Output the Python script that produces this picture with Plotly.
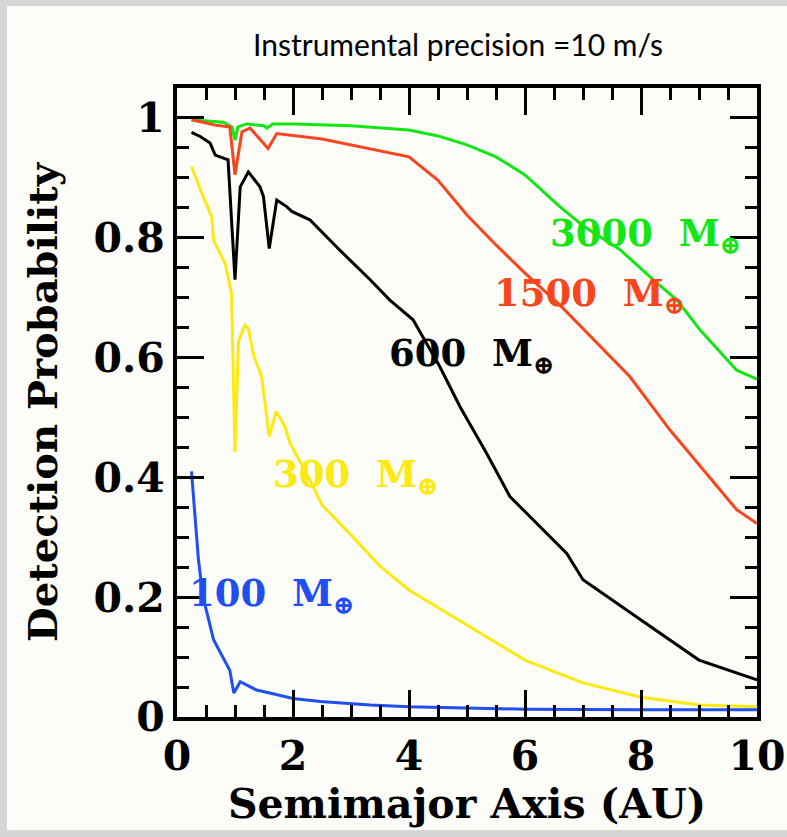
import plotly.graph_objects as go

# ---- data ----
x_3000 = [0.25, 0.5, 0.8, 0.95, 1.0, 1.05, 1.2, 1.5, 1.55, 1.65, 2.0, 3.0, 4.0, 4.5, 5.0, 5.5, 6.0, 6.6, 7.0, 7.64, 8.21, 8.62, 9.02, 9.65, 10.0]
y_3000 = [0.997, 0.995, 0.993, 0.985, 0.963, 0.985, 0.99, 0.987, 0.983, 0.99, 0.99, 0.987, 0.98, 0.97, 0.955, 0.935, 0.905, 0.852, 0.82, 0.78, 0.73, 0.696, 0.646, 0.579, 0.564]

x_1500 = [0.25, 0.66, 0.91, 1.0, 1.12, 1.26, 1.57, 1.72, 2.5, 3.33, 4.0, 4.5, 5.0, 5.5, 6.0, 6.6, 7.81, 8.5, 9.65, 10.0]
y_1500 = [0.997, 0.988, 0.985, 0.905, 0.977, 0.983, 0.949, 0.974, 0.965, 0.949, 0.935, 0.896, 0.838, 0.788, 0.741, 0.688, 0.568, 0.479, 0.346, 0.323]

x_600 = [0.25, 0.4, 0.57, 0.66, 0.88, 1.0, 1.09, 1.23, 1.43, 1.49, 1.59, 1.72, 1.89, 1.98, 2.29, 2.8, 3.33, 3.67, 4.07, 4.53, 4.88, 5.34, 5.74, 6.26, 6.72, 7.0, 7.5, 8.0, 9.0, 10.0]
y_600 = [0.976, 0.969, 0.958, 0.938, 0.93, 0.73, 0.885, 0.91, 0.885, 0.869, 0.782, 0.863, 0.852, 0.844, 0.83, 0.78, 0.73, 0.696, 0.663, 0.585, 0.518, 0.44, 0.368, 0.318, 0.273, 0.229, 0.195, 0.162, 0.095, 0.062]

x_300 = [0.25, 0.45, 0.6, 0.63, 0.83, 0.94, 1.0, 1.06, 1.17, 1.23, 1.32, 1.46, 1.59, 1.71, 1.86, 1.95, 2.29, 2.5, 3.0, 3.5, 4.0, 5.0, 6.0, 7.0, 8.0, 9.0, 10.0]
y_300 = [0.919, 0.869, 0.835, 0.796, 0.757, 0.707, 0.443, 0.627, 0.654, 0.649, 0.604, 0.568, 0.468, 0.51, 0.485, 0.457, 0.396, 0.354, 0.304, 0.252, 0.212, 0.154, 0.095, 0.057, 0.033, 0.02, 0.017]

x_100 = [0.25, 0.37, 0.45, 0.63, 0.91, 0.98, 1.09, 1.37, 1.6, 2.0, 2.47, 3.33, 4.0, 6.0, 8.0, 10.0]
y_100 = [0.41, 0.262, 0.2, 0.129, 0.078, 0.04, 0.059, 0.045, 0.04, 0.031, 0.026, 0.02, 0.017, 0.013, 0.012, 0.012]

series_names = ["3000", "1500", "600", "300", "100"]
series_colors = ["#14e614", "#f8461c", "#000000", "#fbea12", "#1f4ff0"]
x_tick_vals = [0, 2, 4, 6, 8, 10]
y_tick_vals = [0, 0.2, 0.4, 0.6, 0.8, 1.0]
y_tick_text = ["0", "0.2", "0.4", "0.6", "0.8", "1"]

title_text = "Instrumental precision =10 m/s"
x_title = "Semimajor Axis (AU)"
y_title = "Detection Probability"

xs = [x_3000, x_1500, x_600, x_300, x_100]
ys = [y_3000, y_1500, y_600, y_300, y_100]

SERIF = "DejaVu Serif"
BG = "#fcfcf8"

fig = go.Figure()
for name, col, xv, yv in zip(series_names, series_colors, xs, ys):
    fig.add_trace(go.Scatter(x=xv, y=yv, mode="lines", name=name,
                             line=dict(color=col, width=3), showlegend=False))

# curve labels (left edge x, vertical centre y in data units)
label_pos = {"3000": (6.4, 0.803), "1500": (5.43, 0.703), "600": (3.62, 0.603),
             "300": (1.62, 0.402), "100": (0.18, 0.202)}
for name, col in zip(series_names, series_colors):
    lx, ly = label_pos[name]
    fig.add_annotation(x=lx, y=ly, xref="x", yref="y", xanchor="left", yanchor="middle",
                       text=f"{name}  M<sub>⊕</sub>", showarrow=False,
                       font=dict(family=SERIF, size=37, color=col, weight="bold"))

axis_common = dict(showline=True, linecolor="black", linewidth=4, mirror="allticks",
                   ticks="inside", ticklen=27, tickwidth=3, tickcolor="black",
                   showgrid=False, zeroline=False, automargin=False,
                   tickfont=dict(family=SERIF, size=41, color="black", weight="bold"))

fig.update_xaxes(range=[0, 10], tickvals=x_tick_vals,
                 minor=dict(ticks="inside", ticklen=12, tickwidth=3, tickcolor="black", dtick=0.5, tick0=0),
                 title=dict(text=x_title, font=dict(family=SERIF, size=41, color="black", weight="bold"), standoff=10),
                 **axis_common)
fig.update_yaxes(range=[0, 1.05], tickvals=y_tick_vals, ticktext=y_tick_text,
                 minor=dict(ticks="inside", ticklen=12, tickwidth=3, tickcolor="black", dtick=0.05, tick0=0),
                 title=dict(text=y_title, font=dict(family=SERIF, size=40, color="black", weight="bold"), standoff=24),
                 **axis_common)

# slide frame (grey strips around the screenshot)
W, H = 787, 837
L, R, T, B = 177, 30, 88, 120
pw, ph = W - L - R, H - T - B
def px(xp):
    return (xp - L) / pw
def py(yp):
    return (H - B - yp) / ph
for (x0, y0, x1, y1) in [(0, 0, W, 6), (0, 0, 7, H), (0, 830, W, H)]:
    fig.add_shape(type="rect", xref="paper", yref="paper",
                  x0=px(x0), x1=px(x1), y0=py(y1), y1=py(y0),
                  fillcolor="#d6d6d6", line=dict(width=0), layer="below")

fig.update_layout(
    width=W, height=H,
    margin=dict(l=L, r=R, t=T, b=B, autoexpand=False),
    paper_bgcolor=BG, plot_bgcolor=BG,
    title=dict(text=title_text, x=458 / W, xanchor="center", y=1 - 45 / H, yanchor="middle",
               font=dict(family="Lato", size=30, color="black")),
)

fig.write_html("out.html", config={"displayModeBar": False},
               post_script="document.body.style.margin='0';document.body.style.overflow='hidden';")
